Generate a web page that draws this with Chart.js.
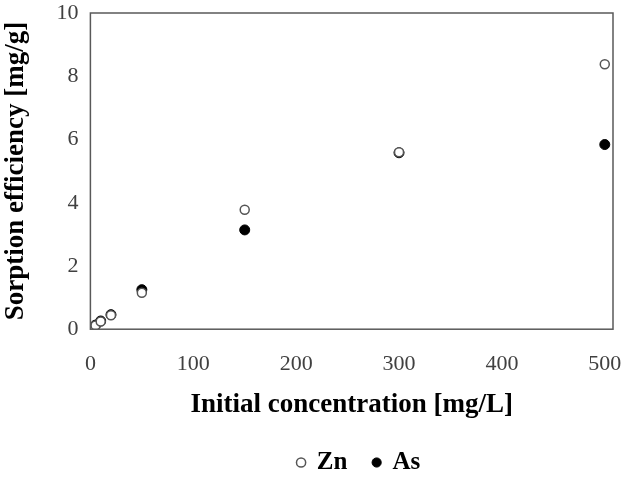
<!DOCTYPE html>
<html>
<head>
<meta charset="utf-8">
<script src="https://cdn.jsdelivr.net/npm/chart.js@4"></script>
<style>
  html, body { margin: 0; padding: 0; background: #fff; }
  #wrap { width: 630px; height: 477px; }
</style>
</head>
<body>
<div id="wrap"><canvas id="grafica"></canvas></div>
<script>
// concentraciones iniciales [mg/L]
const concZn = [1, 5, 10, 20, 50, 150, 300, 500];
const concAs = [1, 5, 10, 20, 50, 150, 300, 500];
// eficiencia de sorcion [mg/g]
const valoresZn = [0.02, 0.12, 0.24, 0.44, 1.15, 3.78, 5.6, 8.38];
const valoresAs = [0.02, 0.13, 0.26, 0.46, 1.25, 3.14, 5.58, 5.84];
const ticksX = [0, 100, 200, 300, 400, 500];
const ticksY = [0, 2, 4, 6, 8, 10];

const aPuntos = (xs, ys) => xs.map((x, i) => ({ x: x, y: ys[i] }));

const serif = "'Liberation Serif', 'Times New Roman', serif";

// marco alrededor del area de la grafica
const marco = {
  id: 'marco',
  afterDraw(chart) {
    const { ctx, chartArea: a } = chart;
    ctx.save();
    ctx.strokeStyle = '#595959';
    ctx.lineWidth = 1.5;
    ctx.strokeRect(a.left, a.top, a.right - a.left, a.bottom - a.top);
    ctx.restore();
  }
};

// la leyenda va un poco a la derecha del centro
const moverLeyenda = {
  id: 'moverLeyenda',
  afterLayout(chart) {
    if (chart.legend) {
      chart.legend.left += 44;
      chart.legend.right += 44;
    }
  }
};

new Chart(document.getElementById('grafica'), {
  type: 'scatter',
  data: {
    datasets: [
      {
        label: 'Zn',
        data: aPuntos(concZn, valoresZn),
        pointStyle: 'circle',
        pointRadius: 4.5,
        backgroundColor: '#ffffff',
        borderColor: '#555555',
        borderWidth: 1.5
      },
      {
        label: 'As',
        data: aPuntos(concAs, valoresAs),
        pointStyle: 'circle',
        pointRadius: 5,
        backgroundColor: '#000000',
        borderColor: '#000000',
        borderWidth: 1
      }
    ]
  },
  options: {
    responsive: true,
    maintainAspectRatio: false,
    animation: false,
    layout: { padding: { top: 13, right: 0, left: 0, bottom: -8 } },
    scales: {
      x: {
        type: 'linear',
        min: 0,
        max: 508,
        afterBuildTicks: (axis) => { axis.ticks = ticksX.map(v => ({ value: v })); },
        afterFit: (axis) => { axis.paddingRight = 17; },
        grid: { display: false, drawTicks: false },
        border: { display: false },
        ticks: { color: '#404040', font: { family: serif, size: 22 }, padding: 22 },
        title: {
          display: true,
          text: 'Initial concentration [mg/L]',
          color: '#000',
          font: { family: serif, size: 27, weight: 'bold' },
          padding: { top: -11, bottom: 3 }
        }
      },
      y: {
        type: 'linear',
        min: 0,
        max: 10,
        afterBuildTicks: (axis) => { axis.ticks = ticksY.map(v => ({ value: v })); },
        afterFit: (axis) => { axis.paddingTop = 0; },
        grid: { display: false, drawTicks: false },
        border: { display: false },
        ticks: { color: '#404040', font: { family: serif, size: 22 }, padding: 12 },
        title: {
          display: true,
          text: 'Sorption efficiency [mg/g]',
          color: '#000',
          font: { family: serif, size: 27, weight: 'bold' },
          padding: { top: 0, bottom: 12 }
        }
      }
    },
    plugins: {
      legend: {
        position: 'bottom',
        labels: {
          usePointStyle: true,
          boxWidth: 6.5,
          boxHeight: 6.5,
          padding: 26,
          color: '#000',
          font: { family: serif, size: 25, weight: 'bold' }
        }
      },
      tooltip: { enabled: false }
    }
  },
  plugins: [marco, moverLeyenda]
});
</script>
</body>
</html>
